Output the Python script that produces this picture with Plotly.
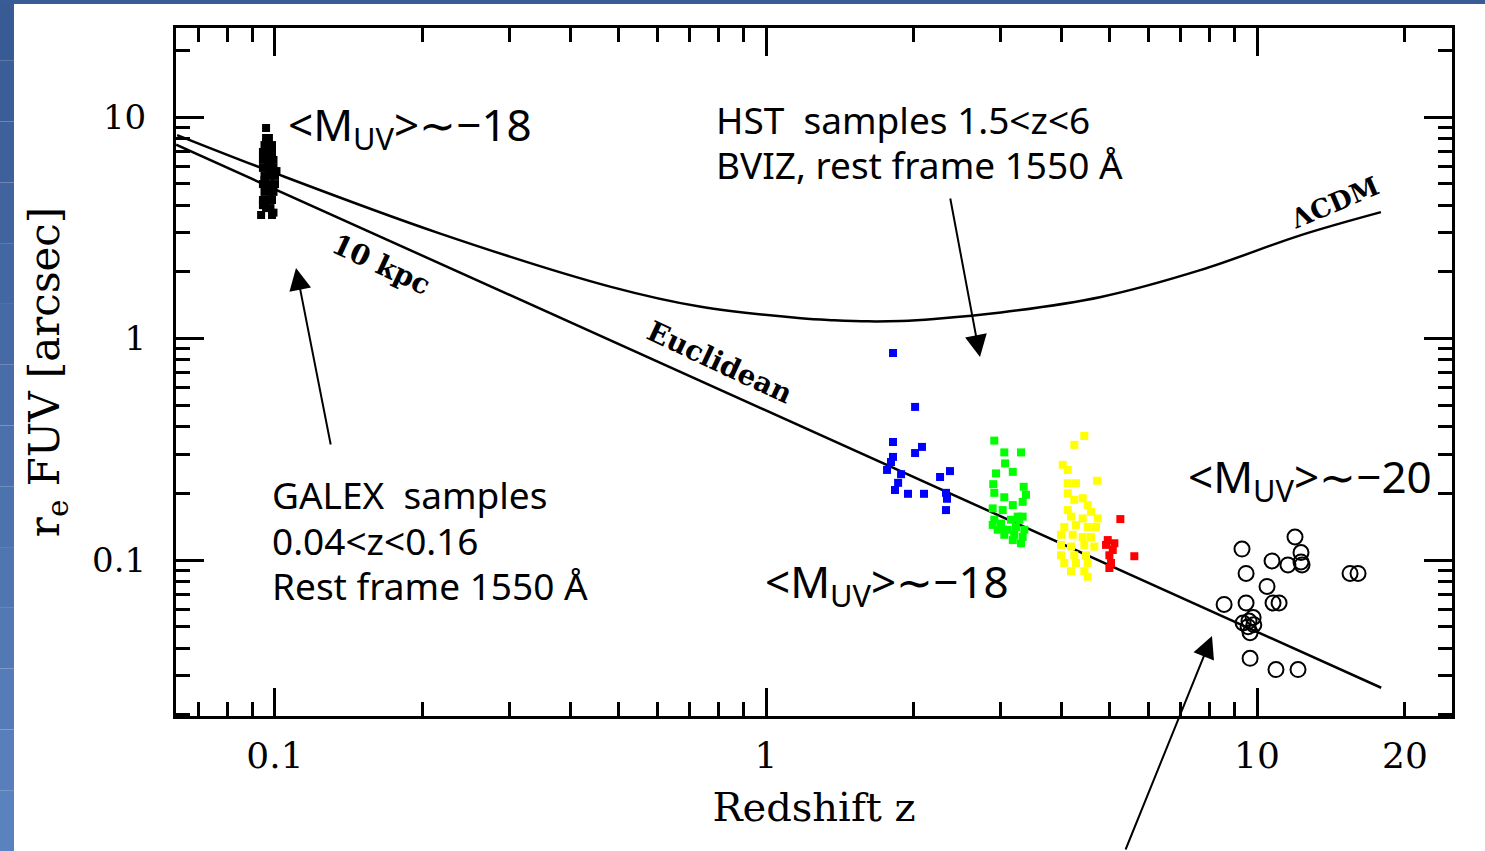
import numpy as np
import plotly.graph_objects as go

# ---------------- data: redshift z and FUV half-light radius r_e [arcsec] ----------------
# theory curves for a 10 kpc object
euclid_z = [0.0629, 17.9]
euclid_r = [7.5, 0.0265]

lcdm_z = [0.0632, 0.0981, 0.2148, 0.4834, 0.737, 1.178, 1.375, 1.613, 1.883, 2.199,
          3.010, 4.81, 7.69, 12.29, 17.88]
lcdm_r = [8.29, 5.67, 3.00, 1.71, 1.39, 1.235, 1.21, 1.195, 1.20, 1.225,
          1.31, 1.54, 2.04, 2.93, 3.72]

# GALEX, 0.04<z<0.16
galex_z = [0.0959, 0.0959, 0.0972, 0.0952, 0.0972, 0.0986, 0.0945, 0.0966, 0.0986,
           0.0945, 0.0966, 0.0993, 0.0945, 0.0972, 0.0993, 0.0952, 0.0979, 0.1000,
           0.0945, 0.0972, 0.1000, 0.0952, 0.0979, 0.0993, 0.0945, 0.0966, 0.0986,
           0.0959, 0.0979, 0.0937, 0.0986, 0.0959, 0.0979, 0.0952, 0.1007, 0.0945, 0.0993]
galex_r = [8.92, 8.04, 8.04, 7.47, 7.47, 7.47, 6.95, 6.95, 6.95,
           6.40, 6.40, 6.40, 5.89, 5.89, 5.89, 5.42, 5.42, 5.42,
           4.98, 4.98, 4.98, 4.59, 4.59, 4.59, 4.22, 4.22, 4.22,
           3.88, 3.88, 3.61, 3.61, 7.70, 6.10, 5.20, 5.70, 4.00, 3.70]

# HST B-dropouts (z~2)
blue_z = [1.814, 2.012, 1.814, 2.078, 2.012, 1.814, 1.797, 1.764, 1.884,
          1.858, 1.831, 1.946, 2.098, 2.262, 2.370, 2.326, 2.337, 2.326]
blue_r = [0.860, 0.491, 0.341, 0.324, 0.304, 0.292, 0.277, 0.255, 0.244,
          0.223, 0.207, 0.199, 0.199, 0.237, 0.252, 0.201, 0.189, 0.168]

# HST V-dropouts (z~3)
green_z = [2.917, 3.057, 3.306, 3.068, 3.181, 2.941, 2.903, 3.348, 2.917, 3.385, 3.057,
           3.181, 3.332, 2.895, 3.034, 3.255, 3.332, 2.895, 3.010, 3.155, 3.280, 2.964,
           3.106, 3.229, 3.358, 3.057, 3.203, 3.332, 3.306, 3.181, 3.010, 2.917]
green_r = [0.346, 0.306, 0.306, 0.273, 0.250, 0.246, 0.220, 0.214, 0.201, 0.197, 0.192,
           0.177, 0.183, 0.171, 0.168, 0.157, 0.157, 0.144, 0.146, 0.152, 0.152, 0.137,
           0.137, 0.141, 0.137, 0.130, 0.130, 0.127, 0.119, 0.123, 0.139, 0.152]

# HST i-dropouts (z~4)
yellow_z = [4.449, 4.245, 4.020, 4.116, 4.722, 4.116, 4.279, 4.116, 4.245, 4.416, 4.116,
            4.521, 4.591, 4.180, 4.416, 4.738, 4.050, 4.279, 4.521, 4.700, 3.988, 4.213,
            4.416, 4.591, 3.988, 4.180, 4.449, 4.663, 3.988, 4.245, 4.485, 4.050, 4.279,
            4.521, 4.180, 4.449, 4.521]
yellow_r = [0.363, 0.331, 0.269, 0.255, 0.228, 0.222, 0.222, 0.200, 0.187, 0.190, 0.168,
            0.177, 0.165, 0.157, 0.154, 0.154, 0.141, 0.144, 0.141, 0.141, 0.130, 0.130,
            0.127, 0.127, 0.117, 0.115, 0.117, 0.115, 0.105, 0.105, 0.105, 0.097, 0.097,
            0.097, 0.089, 0.089, 0.084]

# HST z-dropouts (z~5)
red_z = [5.268, 5.625, 4.966, 5.122, 5.084, 5.004, 5.043, 5.004, 4.926]
red_r = [0.153, 0.104, 0.123, 0.119, 0.111, 0.105, 0.097, 0.092, 0.117]

# z >= 8 candidates
hiz_z = [9.32, 9.50, 10.73, 11.56, 11.95, 12.29, 12.29, 12.35, 15.47, 16.06, 10.48, 8.57,
         9.50, 10.78, 11.09, 9.82, 9.37, 9.63, 9.68, 9.59, 9.85, 9.68, 10.93, 12.12]
hiz_r = [0.112, 0.087, 0.099, 0.095, 0.127, 0.108, 0.098, 0.095, 0.087, 0.087, 0.076, 0.063,
         0.064, 0.064, 0.064, 0.055, 0.052, 0.053, 0.047, 0.050, 0.051, 0.036, 0.032, 0.032]

x_major = [0.1, 1, 10]
x_major_text = ["0.1", "1", "10"]
x_minor = [0.07, 0.08, 0.09, 0.2, 0.3, 0.4, 0.5, 0.6, 0.7, 0.8, 0.9,
           2, 3, 4, 5, 6, 7, 8, 9, 20]
y_major = [0.1, 1, 10]
y_major_text = ["0.1", "1", "10"]
y_minor = [0.02, 0.03, 0.04, 0.05, 0.06, 0.07, 0.08, 0.09,
           0.2, 0.3, 0.4, 0.5, 0.6, 0.7, 0.8, 0.9,
           2, 3, 4, 5, 6, 7, 8, 9, 20]

# ---------------- layout geometry ----------------
W, H = 1485, 851
L, R, T, B = 176, 1452, 28, 716


def px(x):
    return (x - L) / (R - L)


def py(y):
    return (B - y) / (B - T)


SERIF = "DejaVu Serif"
SANS = "Noto Sans"

fig = go.Figure()

fig.add_trace(go.Scatter(x=euclid_z, y=euclid_r, mode="lines",
                         line=dict(color="black", width=2.5), showlegend=False))
fig.add_trace(go.Scatter(x=lcdm_z, y=lcdm_r, mode="lines",
                         line=dict(color="black", width=2.5, shape="spline", smoothing=1.0),
                         showlegend=False))

sq = dict(symbol="square", size=8, line=dict(width=0))
fig.add_trace(go.Scatter(x=galex_z, y=galex_r, mode="markers",
                         marker=dict(color="black", **sq), showlegend=False))
fig.add_trace(go.Scatter(x=blue_z, y=blue_r, mode="markers",
                         marker=dict(color="#0000ff", **sq), showlegend=False))
fig.add_trace(go.Scatter(x=green_z, y=green_r, mode="markers",
                         marker=dict(color="#00ff00", **sq), showlegend=False))
fig.add_trace(go.Scatter(x=yellow_z, y=yellow_r, mode="markers",
                         marker=dict(color="#ffff00", **sq), showlegend=False))
fig.add_trace(go.Scatter(x=red_z, y=red_r, mode="markers",
                         marker=dict(color="#ff0000", **sq), showlegend=False))
fig.add_trace(go.Scatter(x=hiz_z, y=hiz_r, mode="markers",
                         marker=dict(symbol="circle-open", size=15, color="black",
                                     line=dict(width=2, color="black")),
                         showlegend=False))

axis_common = dict(
    type="log", showgrid=False, zeroline=False,
    showline=True, linewidth=3, linecolor="black", mirror="allticks",
    ticks="inside", ticklen=28, tickwidth=3, tickcolor="black",
    tickmode="array",
)

fig.update_xaxes(
    **axis_common,
    range=[-1.2016, 1.3971],
    tickvals=x_major, ticktext=x_major_text,
    tickfont=dict(family=SERIF, size=36, color="black"),
    ticklabelstandoff=6,
    minor=dict(tickmode="array", tickvals=x_minor, ticks="inside", ticklen=14,
               tickwidth=3, tickcolor="black", showgrid=False),
    title=dict(text="Redshift z", font=dict(family=SERIF, size=40, color="black"),
               standoff=18),
)
fig.update_yaxes(
    **axis_common,
    range=[-1.7043, 1.4018],
    tickvals=y_major, ticktext=y_major_text,
    tickfont=dict(family=SERIF, size=34, color="black"),
    ticklabelstandoff=20,
    minor=dict(tickmode="array", tickvals=y_minor, ticks="inside", ticklen=14,
               tickwidth=3, tickcolor="black", showgrid=False),
    title=dict(text="r<sub>e</sub> FUV [arcsec]",
               font=dict(family=SERIF, size=42, color="black"), standoff=20),
)

annotations = []


def label(text, x, y, size, family=SANS, xanchor="left", yanchor="middle", angle=0,
          weight="normal"):
    annotations.append(dict(
        text=text, x=px(x), y=py(y), xref="paper", yref="paper",
        xanchor=xanchor, yanchor=yanchor, showarrow=False, textangle=angle,
        font=dict(family=family, size=size, color="black", weight=weight)))


# sample descriptions
label("&lt;M<sub>UV</sub>&gt;∼−18", 286, 126, 44)
label("HST  samples 1.5&lt;z&lt;6", 714, 119, 37)
label("BVIZ, rest frame 1550 Å", 714, 164, 37)
label("GALEX  samples", 270, 494, 37)
label("0.04&lt;z&lt;0.16", 270, 540, 37)
label("Rest frame 1550 Å", 270, 585, 37)
label("&lt;M<sub>UV</sub>&gt;∼−18", 763, 583, 44)
label("&lt;M<sub>UV</sub>&gt;∼−20", 1186, 478, 44)

# curve names along the lines
label("10 kpc", 381, 264, 28, family=SERIF, xanchor="center", angle=25, weight="bold")
label("Euclidean", 720, 362, 28, family=SERIF, xanchor="center", angle=25, weight="bold")
label("ΛCDM", 1334, 203, 26, family=SERIF, xanchor="center", angle=-23, weight="bold")

# "20" sits on a minor tick
annotations.append(dict(text="20", x=np.log10(20), y=py(755), xref="x", yref="paper",
                        xanchor="center", yanchor="middle", showarrow=False,
                        font=dict(family=SERIF, size=36, color="black")))

# pointer arrows: (head x, head y, tail x, tail y) in page pixels
for hx, hy, tx, ty in [(296, 268, 331, 446), (980, 357, 950, 197), (1212, 636, 1125, 851)]:
    annotations.append(dict(
        text="", x=px(hx), y=py(hy), xref="paper", yref="paper",
        ax=tx - hx, ay=ty - hy, axref="pixel", ayref="pixel",
        showarrow=True, arrowhead=2, arrowsize=2.2, arrowwidth=2,
        arrowcolor="black", standoff=0))

# slide frame: blue strips along the top and left edges
shapes = []
n_bands = 14
for i in range(n_bands):
    f0, f1 = i / n_bands, (i + 1) / n_bands
    c0 = np.array([56, 90, 148])
    c1 = np.array([92, 132, 192])
    c = (c0 + (c1 - c0) * (f0 + f1) / 2).astype(int)
    shapes.append(dict(type="rect", xref="paper", yref="paper",
                       x0=px(0), x1=px(14), y0=py(f0 * H), y1=py(f1 * H),
                       fillcolor=f"rgb({c[0]},{c[1]},{c[2]})", line=dict(width=0),
                       layer="below"))
shapes.append(dict(type="rect", xref="paper", yref="paper",
                   x0=px(0), x1=px(W), y0=py(0), y1=py(4),
                   fillcolor="rgb(58,92,150)", line=dict(width=0), layer="below"))

fig.update_layout(
    width=W, height=H, autosize=False,
    margin=dict(l=L, r=W - R, t=T, b=H - B, pad=0),
    paper_bgcolor="white", plot_bgcolor="white",
    annotations=annotations, shapes=shapes, showlegend=False,
)

fig.write_html("out.html")
